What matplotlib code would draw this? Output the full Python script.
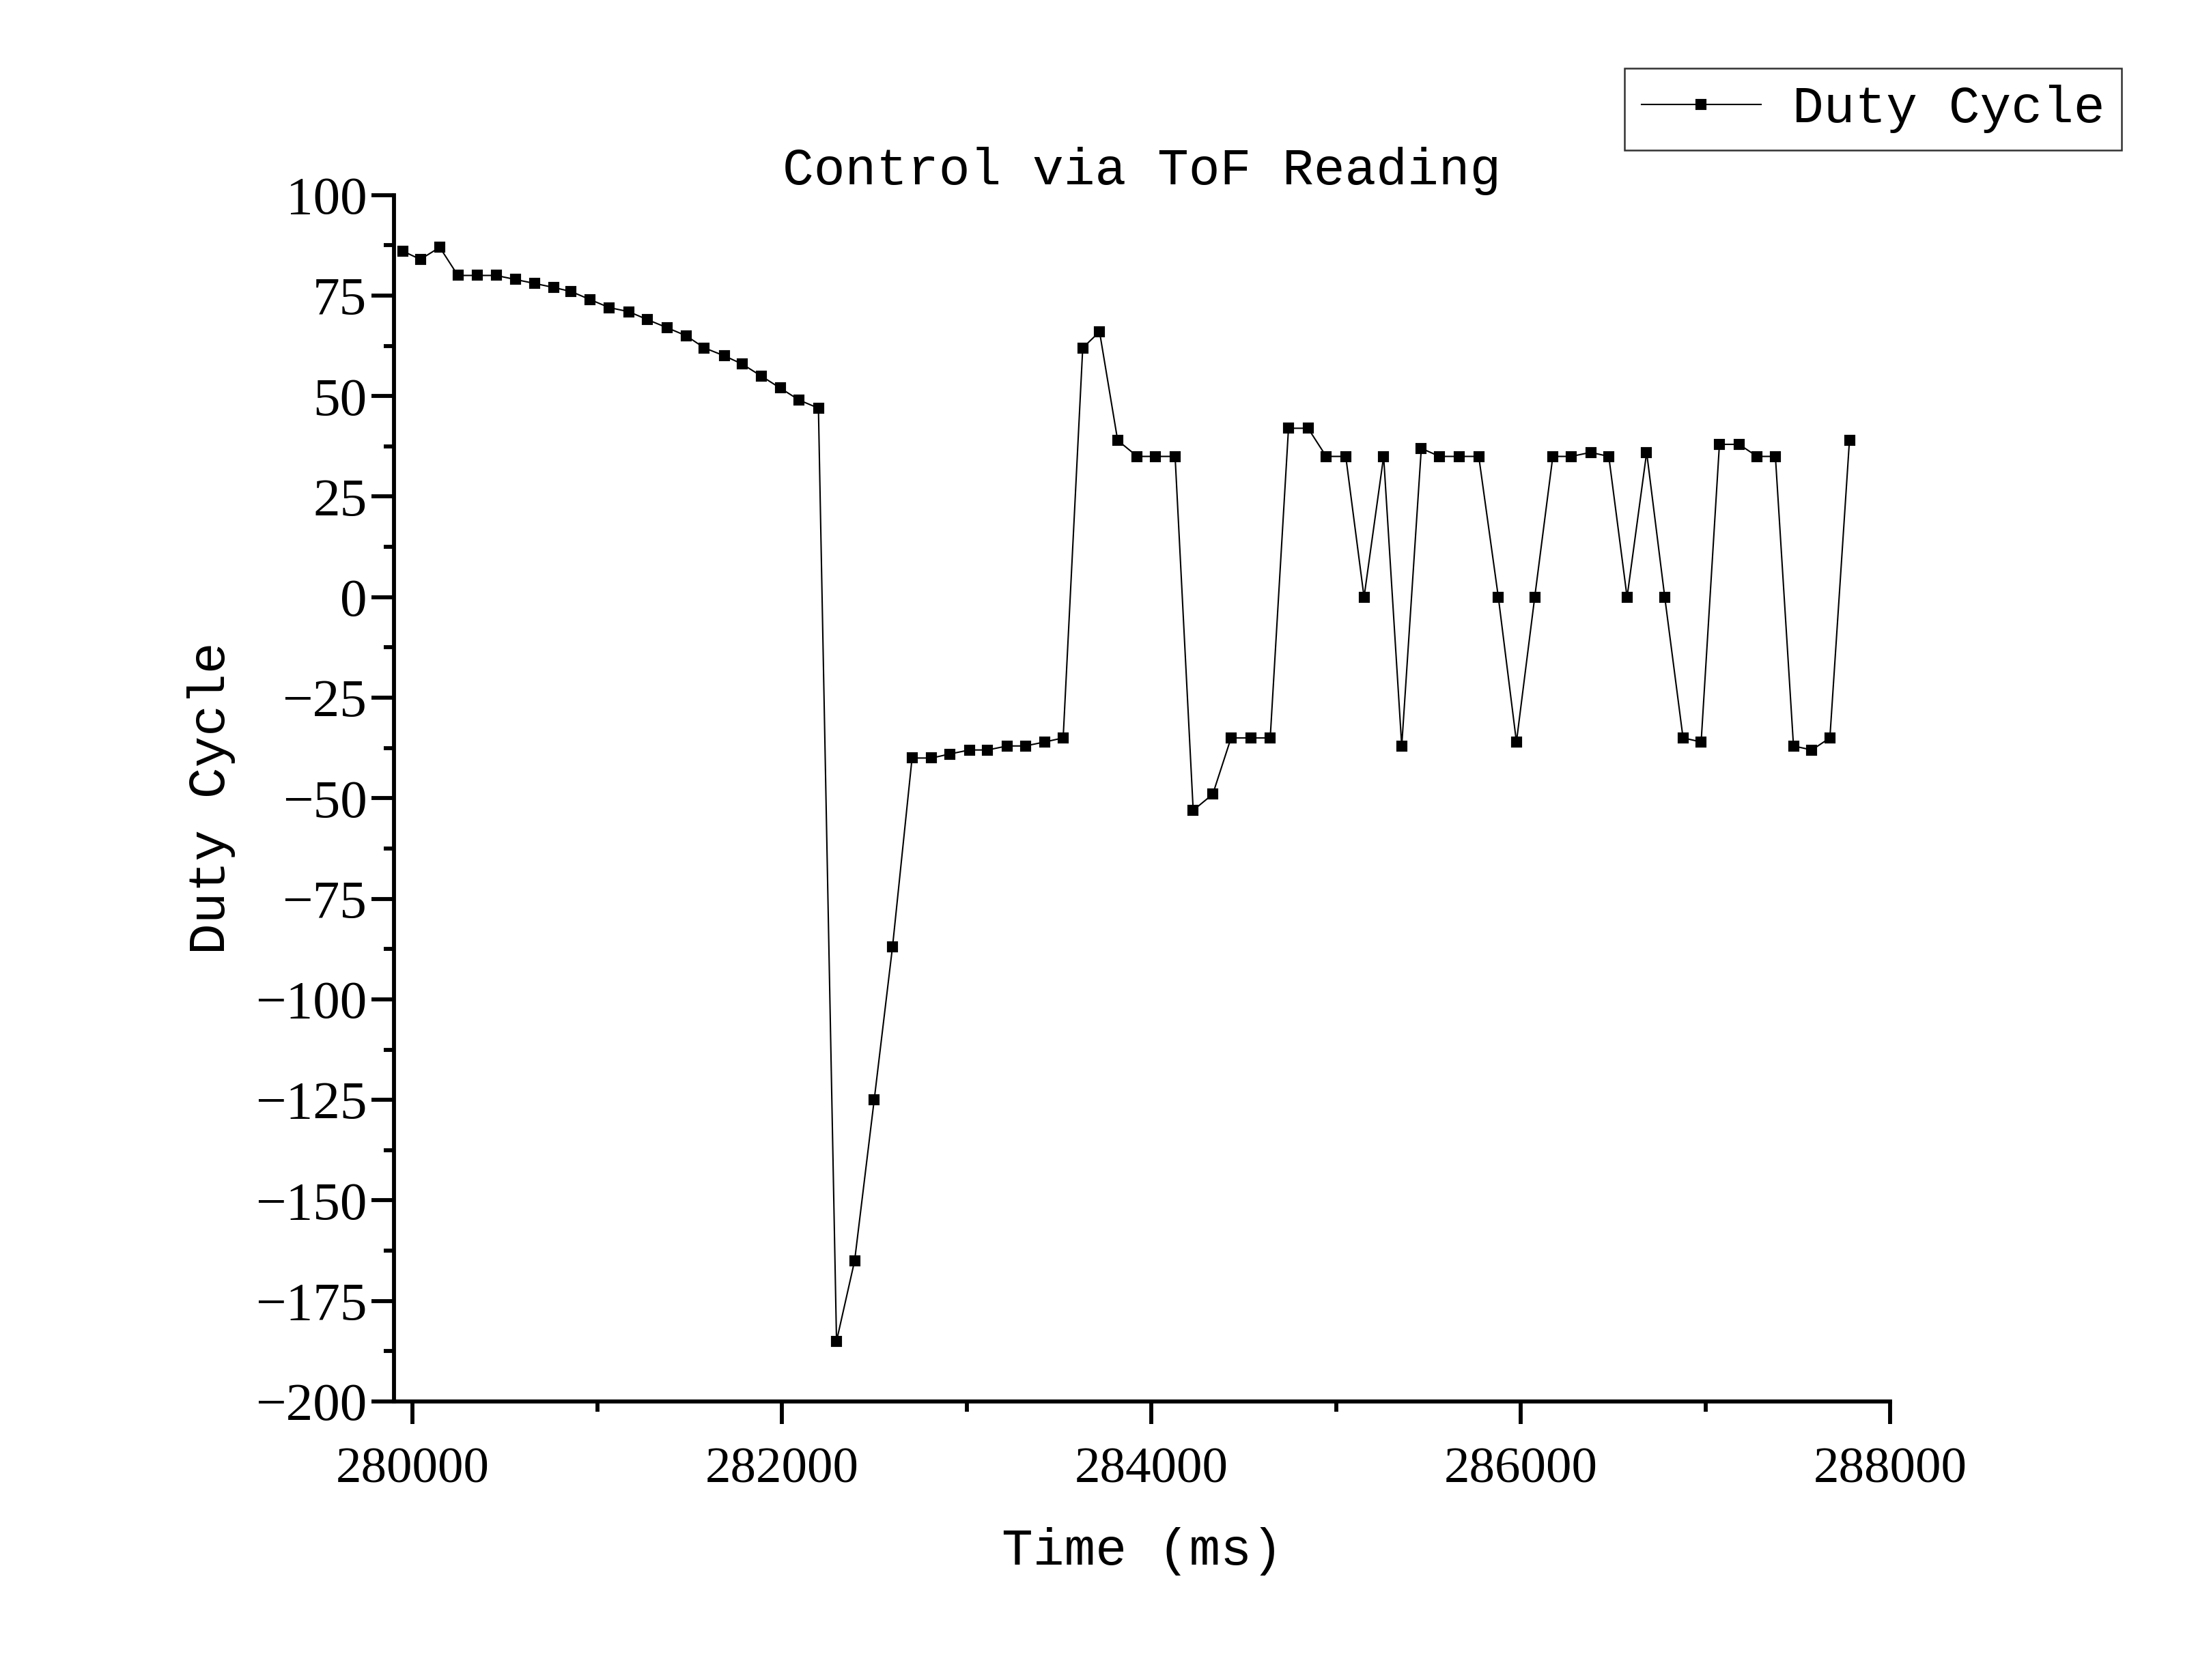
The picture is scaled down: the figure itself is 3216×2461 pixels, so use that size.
import matplotlib.pyplot as plt
from matplotlib.ticker import MultipleLocator

# data
time_ms = [279950, 280043, 280148, 280246, 280350, 280453, 280557, 280663, 280766, 280859,
           280962, 281066, 281171, 281273, 281379, 281482, 281580, 281689, 281784, 281888,
           281991, 282094, 282198,
           282296, 282394, 282500, 282599, 282705, 282811, 282909, 283015, 283114, 283220,
           283318, 283424, 283523, 283629, 283720, 283818, 283924, 284023, 284129, 284227,
           284333, 284432, 284538, 284644, 284743, 284849, 284947, 285053, 285152, 285258,
           285356, 285462, 285561, 285667, 285773, 285879, 285977, 286076, 286174, 286273,
           286379, 286477, 286576, 286682, 286780, 286879, 286977, 287076, 287182, 287280,
           287379, 287477, 287576, 287674, 287780]
duty = [86, 84, 87, 80, 80, 80, 79, 78, 77, 76,
        74, 72, 71, 69, 67, 65, 62, 60, 58, 55,
        52, 49, 47,
        -185, -165, -125, -87, -40, -40, -39, -38, -38, -37,
        -37, -36, -35, 62, 66, 39, 35, 35, 35, -53,
        -49, -35, -35, -35, 42, 42, 35, 35, 0, 35,
        -37, 37, 35, 35, 35, 0, -36, 0, 35, 35,
        36, 35, 0, 36, 0, -35, -36, 38, 38, 35,
        35, -37, -38, -35, 39]

label_font = 'Liberation Mono'
tick_font = 'Liberation Serif'

fig = plt.figure(figsize=(10.72, 8.2035), dpi=300)
ax = fig.add_axes([0.1794, 0.1658, 0.6813, 0.7181])

ax.plot(time_ms, duty, color='black', lw=0.5, marker='s', ms=3.0,
        markerfacecolor='black', markeredgecolor='black', label='Duty Cycle')

ax.set_xlim(279900, 288000)
ax.set_ylim(-200, 100)
ax.xaxis.set_major_locator(MultipleLocator(2000))
ax.xaxis.set_minor_locator(MultipleLocator(1000))
ax.yaxis.set_major_locator(MultipleLocator(25))
ax.yaxis.set_minor_locator(MultipleLocator(12.5))

# Origin-like axes: only left and bottom, ticks outward
ax.spines['top'].set_visible(False)
ax.spines['right'].set_visible(False)
for s in ['left', 'bottom']:
    ax.spines[s].set_linewidth(1.4)
ax.tick_params(which='major', direction='out', length=8, width=1.4)
ax.tick_params(which='minor', direction='out', length=3.7, width=1.4)
ax.tick_params(axis='x', which='major', pad=8)
ax.tick_params(axis='y', which='major', pad=1.5)
for lab in ax.get_xticklabels():
    lab.set_fontfamily(tick_font)
    lab.set_fontsize(18)
for lab in ax.get_yticklabels():
    lab.set_fontfamily(tick_font)
    lab.set_fontsize(19)

ax.set_title('Control via ToF Reading', fontfamily=label_font, fontsize=18.3, pad=3)
ax.set_xlabel('Time (ms)', fontfamily=label_font, fontsize=18.3, labelpad=12)
ax.set_ylabel('Duty Cycle', fontfamily=label_font, fontsize=18.3, labelpad=7)

leg = fig.legend(loc='upper right', bbox_to_anchor=(0.966, 0.9594),
                 prop={'family': label_font, 'size': 18.3},
                 frameon=True, fancybox=False, edgecolor='black',
                 handlelength=2.3, handletextpad=0.6, borderpad=0.32,
                 borderaxespad=0)
leg.get_frame().set_linewidth(0.6)

fig.savefig('out.png', dpi=300)
